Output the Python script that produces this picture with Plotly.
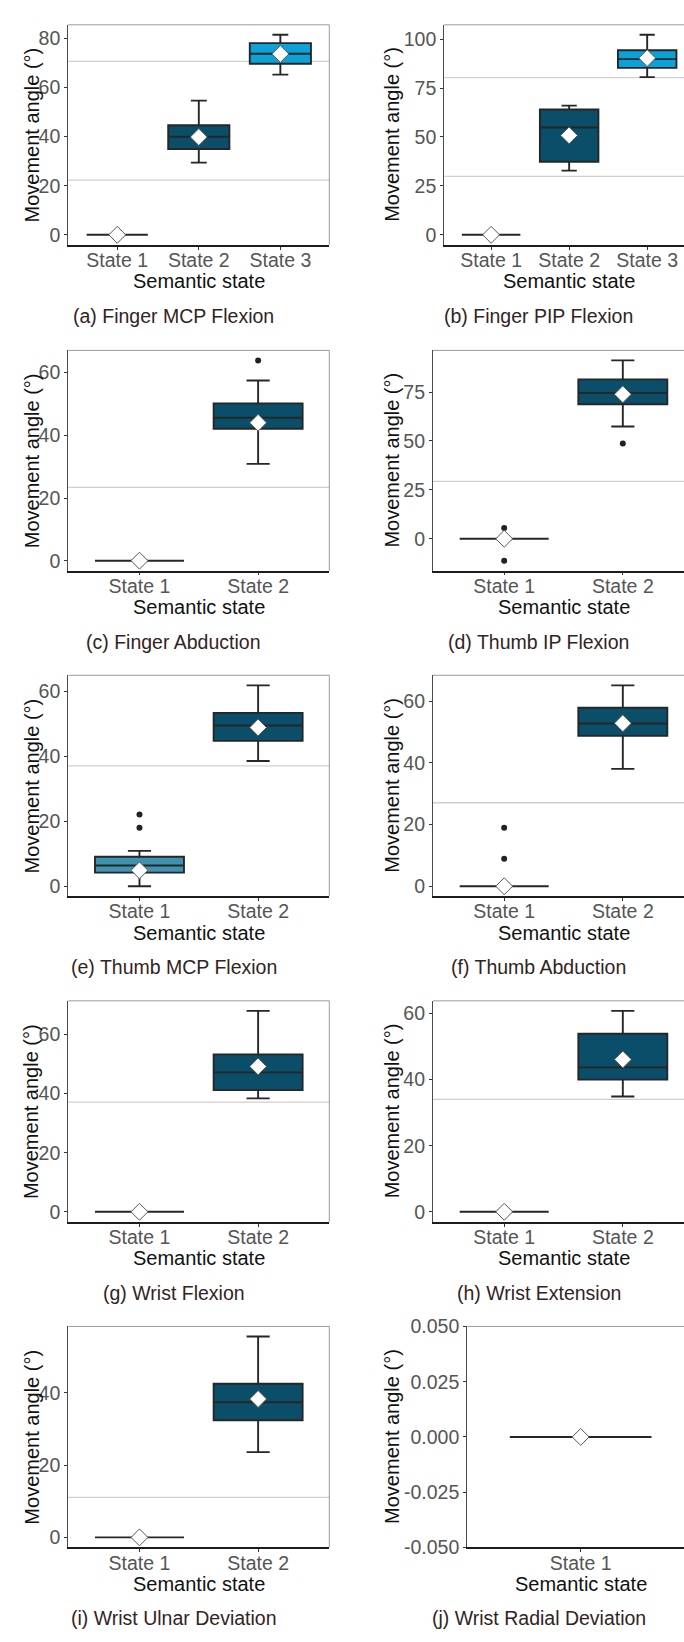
import plotly.graph_objects as go

# ---------------- data ----------------
S3 = ["State 1", "State 2", "State 3"]
S2 = ["State 1", "State 2"]
S1 = ["State 1"]

# (a) Finger MCP Flexion
A_low = [0, 29.4, 65.2]; A_q1 = [0, 34.9, 69.6]; A_med = [0, 39.9, 73.7]
A_q3 = [0, 44.6, 78.0]; A_high = [0, 54.6, 81.4]; A_mean = [0, 39.8, 73.6]
A_out = [[], [], []]; A_thr = [22.3, 70.6]; A_ticks = [0, 20, 40, 60, 80]
# (b) Finger PIP Flexion
B_low = [0, 32.8, 80.6]; B_q1 = [0, 37.3, 85.3]; B_med = [0, 54.8, 89.8]
B_q3 = [0, 64.0, 94.3]; B_high = [0, 66.0, 102.2]; B_mean = [0, 50.8, 90.3]
B_out = [[], [], []]; B_thr = [29.9, 80.3]; B_ticks = [0, 25, 50, 75, 100]
# (c) Finger Abduction
C_low = [0, 30.9]; C_q1 = [0, 42.1]; C_med = [0, 45.6]
C_q3 = [0, 50.2]; C_high = [0, 57.5]; C_mean = [0, 44.0]
C_out = [[], [63.9]]; C_thr = [23.4]; C_ticks = [0, 20, 40, 60]
# (d) Thumb IP Flexion
D_low = [0, 57.4]; D_q1 = [0, 68.8]; D_med = [0, 74.5]
D_q3 = [0, 81.5]; D_high = [0, 91.2]; D_mean = [0, 73.9]
D_out = [[5.5, -11.2], [48.7]]; D_thr = [29.4]; D_ticks = [0, 25, 50, 75]
# (e) Thumb MCP Flexion
E_low = [0, 38.6]; E_q1 = [4.2, 44.8]; E_med = [6.4, 49.5]
E_q3 = [9.1, 53.4]; E_high = [10.9, 61.9]; E_mean = [4.9, 48.9]
E_out = [[22.1, 18.0], []]; E_thr = [37.1]; E_ticks = [0, 20, 40, 60]
# (f) Thumb Abduction
F_low = [0, 38.1]; F_q1 = [0, 48.8]; F_med = [0, 52.8]
F_q3 = [0, 57.9]; F_high = [0, 65.2]; F_mean = [0, 52.9]
F_out = [[19.0, 8.9], []]; F_thr = [27.1]; F_ticks = [0, 20, 40, 60]
# (g) Wrist Flexion
G_low = [0, 38.4]; G_q1 = [0, 41.2]; G_med = [0, 47.2]
G_q3 = [0, 53.3]; G_high = [0, 68.0]; G_mean = [0, 49.2]
G_out = [[], []]; G_thr = [37.1]; G_ticks = [0, 20, 40, 60]
# (h) Wrist Extension
H_low = [0, 34.9]; H_q1 = [0, 40.0]; H_med = [0, 43.7]
H_q3 = [0, 53.9]; H_high = [0, 60.8]; H_mean = [0, 46.1]
H_out = [[], []]; H_thr = [34.0]; H_ticks = [0, 20, 40, 60]
# (i) Wrist Ulnar Deviation
I_low = [0, 23.6]; I_q1 = [0, 32.4]; I_med = [0, 37.4]
I_q3 = [0, 42.5]; I_high = [0, 55.6]; I_mean = [0, 38.3]
I_out = [[], []]; I_thr = [11.1]; I_ticks = [0, 20, 40]
# (j) Wrist Radial Deviation
J_low = [0]; J_q1 = [0]; J_med = [0]; J_q3 = [0]; J_high = [0]; J_mean = [0]
J_out = [[]]; J_thr = []; J_ticks = [-0.05, -0.025, 0, 0.025, 0.05]
J_ticktext = ["-0.050", "-0.025", "0.000", "0.025", "0.050"]

CAPTIONS = ["(a) Finger MCP Flexion", "(b) Finger PIP Flexion", "(c) Finger Abduction",
            "(d) Thumb IP Flexion", "(e) Thumb MCP Flexion", "(f) Thumb Abduction",
            "(g) Wrist Flexion", "(h) Wrist Extension", "(i) Wrist Ulnar Deviation",
            "(j) Wrist Radial Deviation"]

STATE_COLORS = {"State 1": "#3f92b0", "State 2": "#0b4e6a", "State 3": "#0ba2da"}

PANELS = [
    (S3, A_low, A_q1, A_med, A_q3, A_high, A_mean, A_out, A_thr, A_ticks, None),
    (S3, B_low, B_q1, B_med, B_q3, B_high, B_mean, B_out, B_thr, B_ticks, None),
    (S2, C_low, C_q1, C_med, C_q3, C_high, C_mean, C_out, C_thr, C_ticks, None),
    (S2, D_low, D_q1, D_med, D_q3, D_high, D_mean, D_out, D_thr, D_ticks, None),
    (S2, E_low, E_q1, E_med, E_q3, E_high, E_mean, E_out, E_thr, E_ticks, None),
    (S2, F_low, F_q1, F_med, F_q3, F_high, F_mean, F_out, F_thr, F_ticks, None),
    (S2, G_low, G_q1, G_med, G_q3, G_high, G_mean, G_out, G_thr, G_ticks, None),
    (S2, H_low, H_q1, H_med, H_q3, H_high, H_mean, H_out, H_thr, H_ticks, None),
    (S2, I_low, I_q1, I_med, I_q3, I_high, I_mean, I_out, I_thr, I_ticks, None),
    (S1, J_low, J_q1, J_med, J_q3, J_high, J_mean, J_out, J_thr, J_ticks, J_ticktext),
]

# ---------------- layout geometry (pixels) ----------------
W, H = 684, 1642
FONT = "Liberation Sans, Arial, sans-serif"
ROWS = [(14, 237), (344, 567.3), (673.3, 897.3), (1003.3, 1227.3), (1333.3, 1557.3)]
LEFT_X = (68.3, 329.3)
RIGHT_X0 = [444.3, 433, 433, 433, 467.3]
RIGHT_X1 = 694
YTITLE_X = [31.7, 392]
CAPTION_X = [173.7, 538.5]

fig = go.Figure()
layout = dict(width=W, height=H, margin=dict(l=0, r=0, t=0, b=0),
              paper_bgcolor="white", plot_bgcolor="white", showlegend=False,
              font=dict(family=FONT), shapes=[], annotations=[])

for k, (states, low, q1, med, q3, high, mean, outl, thr, ticks, ticktext) in enumerate(PANELS):
    row, col = divmod(k, 2)
    top, bot = ROWS[row]
    if col == 0:
        x0, x1 = LEFT_X
    else:
        x0, x1 = RIGHT_X0[row], RIGHT_X1
    sfx = "" if k == 0 else str(k + 1)
    xa, ya = "x" + sfx, "y" + sfx
    n = len(states)
    unit = (x1 - x0) / (n + 0.2)
    xend = min(x1, W)
    xr = [-0.6, -0.6 + (xend - x0) / unit]

    allv = low + high + [o for lst in outl for o in lst] + [0]
    lo, hi = min(allv), max(allv)
    span = hi - lo
    yr = [-0.05, 0.05] if span == 0 else [lo - 0.05 * span, hi + 0.05 * span]

    for j, s in enumerate(states):
        fig.add_trace(go.Box(
            x=[s], q1=[q1[j]], median=[med[j]], q3=[q3[j]],
            lowerfence=[low[j]], upperfence=[high[j]],
            width=0.75, whiskerwidth=0.26, boxpoints=False,
            fillcolor=STATE_COLORS[s], line=dict(color="#262626", width=1.9),
            xaxis=xa, yaxis=ya, hoverinfo="skip"))
        if outl[j]:
            fig.add_trace(go.Scatter(
                x=[s] * len(outl[j]), y=outl[j], mode="markers",
                marker=dict(color="#222222", size=6), xaxis=xa, yaxis=ya, hoverinfo="skip"))
    fig.add_trace(go.Scatter(
        x=states, y=mean, mode="markers",
        marker=dict(symbol="diamond", size=13, color="white",
                    line=dict(color="#555555", width=1)),
        xaxis=xa, yaxis=ya, hoverinfo="skip"))

    layout["xaxis" + sfx] = dict(
        domain=[x0 / W, xend / W], range=xr, type="category",
        categoryorder="array", categoryarray=states, anchor=ya,
        showline=True, linecolor="#1c1c1c", linewidth=1.6,
        ticks="outside", ticklen=3, tickcolor="#333333", tickwidth=1,
        ticklabelstandoff=-6,
        tickfont=dict(size=19.5, color="#555555", family=FONT),
        showgrid=False, zeroline=False, fixedrange=True)
    layout["yaxis" + sfx] = dict(
        domain=[1 - bot / H, 1 - top / H], range=yr, anchor=xa,
        showline=True, linecolor="#4a4a4a", linewidth=1.2,
        ticks="outside", ticklen=3, tickcolor="#333333", tickwidth=1,
        tickvals=ticks, ticktext=ticktext if ticktext else [str(t) for t in ticks],
        tickfont=dict(size=19.5, color="#555555", family=FONT),
        showgrid=False, zeroline=False, fixedrange=True)

    for t in thr:
        layout["shapes"].append(dict(
            type="line", xref=xa + " domain", yref=ya, x0=0, x1=1, y0=t, y1=t,
            line=dict(color="#cfcfcf", width=1.3), layer="below"))
    layout["shapes"].append(dict(
        type="line", xref=xa + " domain", yref=ya + " domain", x0=0, x1=1, y0=1, y1=1,
        line=dict(color="#9a9a9a", width=1)))
    if x1 <= W:
        layout["shapes"].append(dict(
            type="line", xref=xa + " domain", yref=ya + " domain", x0=1, x1=1, y0=0, y1=1,
            line=dict(color="#9a9a9a", width=1)))

    layout["annotations"].append(dict(
        text="Movement angle (°)", x=YTITLE_X[col] / W, y=1 - (top + bot) / 2 / H,
        xref="paper", yref="paper", textangle=-90, showarrow=False,
        xanchor="center", yanchor="middle", font=dict(size=20, color="#111111", family=FONT)))
    layout["annotations"].append(dict(
        text="Semantic state", x=(x0 + x1) / 2 / W, y=1 - (bot + 37) / H,
        xref="paper", yref="paper", showarrow=False,
        xanchor="center", yanchor="middle", font=dict(size=20, color="#111111", family=FONT)))
    layout["annotations"].append(dict(
        text=CAPTIONS[k], x=CAPTION_X[col] / W, y=1 - (bot + 72) / H,
        xref="paper", yref="paper", showarrow=False,
        xanchor="center", yanchor="middle", font=dict(size=19.5, color="#33231f", family=FONT)))

fig.update_layout(**layout)
fig.write_html("out.html")
